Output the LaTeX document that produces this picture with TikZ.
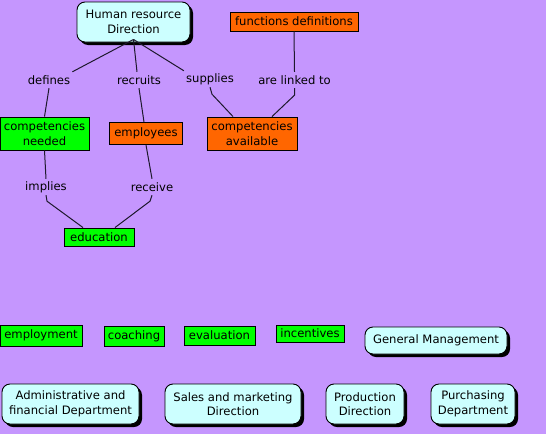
\documentclass[tikz,border=0pt]{standalone}
\usepackage{fontspec}
\setmainfont{DejaVu Sans}
\usetikzlibrary{shadows}
\definecolor{bgc}{RGB}{197,150,254}
\definecolor{cgreen}{RGB}{0,255,0}
\definecolor{corange}{RGB}{255,102,0}
\definecolor{ccyan}{RGB}{204,255,255}
\definecolor{lnc}{RGB}{30,25,45}
\begin{document}
\begin{tikzpicture}[x=1pt,y=-1pt,
  every node/.style={font=\fontsize{11.6}{14.6}\selectfont, align=center, inner sep=0pt, text=black},
  box/.style={draw=black, line width=0.9pt},
  gbox/.style={box, fill=cgreen},
  obox/.style={box, fill=corange},
  dept/.style={draw=black, line width=0.9pt, fill=ccyan, rounded corners=8pt,
     drop shadow={shadow xshift=3pt, shadow yshift=-3pt, fill=black, opacity=1}},
  lab/.style={inner sep=2pt, minimum height=16pt},
  conn/.style={draw=lnc, line width=1pt}]
\useasboundingbox (0,0) rectangle (546,434);
\fill[bgc] (0,0) rectangle (546,434);

% top part
\node[dept, minimum width=113pt, minimum height=40pt] (hr) at (133.5,22) {Human resource\\Direction};
\node[obox, minimum width=128pt, minimum height=19pt] (fd) at (294,21.5) {functions definitions};
\node[lab] (defines) at (49,80) {defines};
\node[lab] (recruits) at (139,80) {recruits};
\node[lab] (supplies) at (210,79) {supplies};
\node[lab] (linked) at (294.5,80) {are linked to};
\node[gbox, minimum width=89pt, minimum height=33pt] (cn) at (44.5,133.5) {competencies\\needed};
\node[obox, minimum width=73pt, minimum height=22pt] (emp) at (146,133.5) {employees};
\node[obox, minimum width=90pt, minimum height=33pt] (ca) at (252,133.5) {competencies\\available};
\node[lab] (implies) at (46,187) {implies};
\node[lab] (receive) at (152,187) {receive};
\node[gbox, minimum width=70pt, minimum height=18pt] (edu) at (99,237) {education};

% connectors
\draw[conn] ([yshift=3pt]hr.south) -- (defines.north east);
\draw[conn] ([yshift=3pt]hr.south) -- ([xshift=-2pt]recruits.north);
\draw[conn] ([yshift=3pt]hr.south) -- (supplies.north west);
\draw[conn] (fd.south) -- (linked.north);
\draw[conn] (defines.south) -- (cn.north);
\draw[conn] (recruits.south) -- ([xshift=-2pt]emp.north);
\draw[conn] (supplies.south) -- ++(2,7) -- ([xshift=-19pt]ca.north);
\draw[conn] (linked.south) -- ++(0,7) -- ([xshift=20pt]ca.north);
\draw[conn] (cn.south) -- (implies.north);
\draw[conn] (emp.south) -- (receive.north);
\draw[conn] (implies.south) -- ++(1,6) -- ([xshift=-16pt]edu.north);
\draw[conn] (receive.south) -- ++(-2,6) -- ([xshift=16pt]edu.north);

% bottom part
\node[gbox, minimum width=82pt, minimum height=21pt] (employment) at (41,335.5) {employment};
\node[gbox, minimum width=60pt, minimum height=20pt] (coaching) at (134,336) {coaching};
\node[gbox, minimum width=71pt, minimum height=19pt] (evaluation) at (219.5,335.5) {evaluation};
\node[gbox, minimum width=68pt, minimum height=17pt] (incentives) at (310,333.5) {incentives};
\node[dept, minimum width=142pt, minimum height=27pt] (gm) at (436,340.5) {General Management};
\node[dept, minimum width=137pt, minimum height=40pt] (admin) at (70.5,404) {Administrative and\\financial Department};
\node[dept, minimum width=136pt, minimum height=40pt] (sales) at (233,404) {Sales and marketing\\Direction};
\node[dept, minimum width=78pt, minimum height=40pt] (prod) at (365,404) {Production\\Direction};
\node[dept, minimum width=84pt, minimum height=40pt] (purch) at (473,404) {Purchasing\\Department};
\end{tikzpicture}
\end{document}
